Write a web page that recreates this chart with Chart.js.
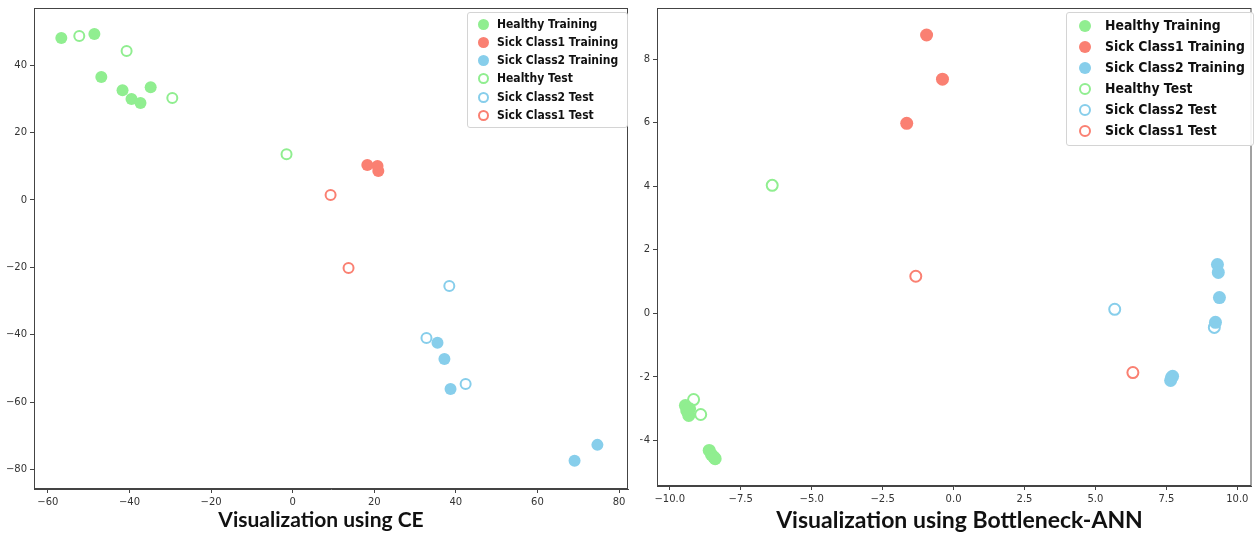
<!DOCTYPE html>
<html>
<head>
<meta charset="utf-8">
<script src="https://cdn.jsdelivr.net/npm/chart.js@4.4.1/dist/chart.umd.min.js"></script>
<style>
  body { margin: 0; background: #fff; width: 1259px; height: 536px; position: relative; overflow: hidden; }
  .panel { position: absolute; top: 0; }
  .legend { position: absolute; background: rgba(255,255,255,0.9); border: 1px solid #d4d4d4; border-radius: 3px;
            font-family: "DejaVu Sans", sans-serif; font-weight: bold; color: #111; box-sizing: border-box; }
  .legend .row { position: absolute; white-space: nowrap; }
  .legend .dot { position: absolute; border-radius: 50%; box-sizing: border-box; }
  .caption { position: absolute; font-family: Lato, "Open Sans", sans-serif; font-weight: bold; color: #111;
             text-align: center; white-space: nowrap; }
</style>
</head>
<body>
<div class="panel" style="left:0;width:640px;height:512px"><canvas id="ceChart"></canvas></div>
<div class="panel" style="left:640px;width:619px;height:509px"><canvas id="annChart"></canvas></div>
<div class="legend" id="ceLegend" style="left:467px;top:12px;width:161px;height:116px"></div>
<div class="legend" id="annLegend" style="left:1066px;top:12px;width:188px;height:134px"></div>
<div class="caption" style="left:0;width:642px;top:506px;font-size:21px">Visualization using CE</div>
<div class="caption" style="left:650px;width:619px;top:505px;font-size:23px">Visualization using Bottleneck-ANN</div>
<script>
// --- Series labels and colours ---
const seriesLabels = ['Healthy Training', 'Sick Class1 Training', 'Sick Class2 Training',
                      'Healthy Test', 'Sick Class2 Test', 'Sick Class1 Test'];
const seriesColors = ['#90EE90', '#FA8072', '#87CEEB', '#90EE90', '#87CEEB', '#FA8072'];
const seriesFilled = [true, true, true, false, false, false];

// --- Left panel (CE) points [x, y] ---
const ceHealthyTraining = [[-56.7, 48.1], [-48.6, 49.3], [-46.9, 36.5], [-41.7, 32.6], [-39.5, 30.0], [-37.3, 28.8], [-34.8, 33.5]];
const ceSick1Training = [[18.3, 10.4], [20.8, 10.1], [21.0, 8.6]];
const ceSick2Training = [[35.5, -42.4], [37.2, -47.2], [38.7, -56.1], [69.1, -77.4], [74.7, -72.7]];
const ceHealthyTest = [[-52.3, 48.7], [-40.7, 44.2], [-29.5, 30.3], [-1.5, 13.6]];
const ceSick2Test = [[38.4, -25.5], [32.8, -41.0], [42.4, -54.6]];
const ceSick1Test = [[9.3, 1.5], [13.7, -20.2]];
const ceXTicks = [-60, -40, -20, 0, 20, 40, 60, 80];
const ceYTicks = [-80, -60, -40, -20, 0, 20, 40];

// --- Right panel (Bottleneck-ANN) points [x, y] ---
const annHealthyTraining = [[-9.45, -2.90], [-9.40, -3.06], [-9.33, -3.21], [-9.30, -3.00],
                            [-8.61, -4.31], [-8.53, -4.44], [-8.45, -4.52], [-8.40, -4.57]];
const annSick1Training = [[-0.95, 8.76], [-0.39, 7.37], [-1.65, 5.98]];
const annSick2Training = [[9.30, 1.54], [9.33, 1.29], [9.37, 0.50], [9.23, -0.28], [7.65, -2.11], [7.72, -1.98]];
const annHealthyTest = [[-6.39, 4.03], [-9.16, -2.71], [-8.91, -3.18]];
const annSick2Test = [[5.68, 0.13], [9.19, -0.44], [7.68, -2.02]];
const annSick1Test = [[-1.33, 1.17], [6.32, -1.86]];
const annXTicks = [-10, -7.5, -5, -2.5, 0, 2.5, 5, 7.5, 10];
const annYTicks = [-4, -2, 0, 2, 4, 6, 8];

const spineColor = '#444';
const tickFont = { family: 'DejaVu Sans', size: 10 };

function toPoints(pairs) {
    return pairs.map(p => ({ x: p[0], y: p[1] }));
}

function buildDatasets(groups, radius) {
    return groups.map((pairs, i) => ({
        label: seriesLabels[i],
        data: toPoints(pairs),
        pointRadius: seriesFilled[i] ? radius : radius - 1,
        pointBackgroundColor: seriesFilled[i] ? seriesColors[i] : 'rgba(0,0,0,0)',
        pointBorderColor: seriesColors[i],
        pointBorderWidth: seriesFilled[i] ? 0 : 2,
        order: seriesFilled[i] ? 1 : 0
    }));
}

function minusSign(v, digits) {
    return (digits ? v.toFixed(digits) : String(v)).replace('-', '\u2212');
}

// draws the full box around the plot area
const framePlugin = {
    id: 'frame',
    afterDraw(chart) {
        const a = chart.chartArea, c = chart.ctx;
        c.save();
        c.strokeStyle = spineColor;
        c.lineWidth = 1;
        c.strokeRect(a.left + 0.5, a.top + 0.5, a.right - a.left - 1, a.bottom - a.top - 1);
        c.restore();
    }
};

function axis(min, max, ticks, digits, fitKey, fitSize) {
    return {
        type: 'linear',
        min: min,
        max: max,
        afterBuildTicks: s => { s.ticks = ticks.map(v => ({ value: v })); },
        afterFit: s => {
            s[fitKey] = fitSize;
            s.paddingLeft = 0; s.paddingRight = 0;
            s.paddingTop = 0; s.paddingBottom = 0;
        },
        grid: { display: true, drawOnChartArea: false, drawTicks: true, tickLength: 4, color: spineColor },
        border: { display: true, color: spineColor },
        ticks: {
            color: '#333',
            font: tickFont,
            padding: 3,
            maxRotation: 0,
            autoSkip: false,
            callback: v => minusSign(v, digits)
        }
    };
}

function makeChart(id, datasets, xs, ys, pad) {
    return new Chart(document.getElementById(id), {
        type: 'scatter',
        data: { datasets: datasets },
        options: {
            responsive: true,
            maintainAspectRatio: false,
            animation: false,
            events: [],
            layout: { padding: pad },
            plugins: { legend: { display: false }, tooltip: { enabled: false } },
            scales: { x: xs, y: ys }
        },
        plugins: [framePlugin]
    });
}

const ceChart = makeChart('ceChart',
    buildDatasets([ceHealthyTraining, ceSick1Training, ceSick2Training, ceHealthyTest, ceSick2Test, ceSick1Test], 6),
    axis(-63.4, 82.2, ceXTicks, 0, 'height', 23),
    axis(-85.8, 57.0, ceYTicks, 0, 'width', 34),
    { left: 0, right: 12, top: 8, bottom: 0 });

const annChart = makeChart('annChart',
    buildDatasets([annHealthyTraining, annSick1Training, annSick2Training, annHealthyTest, annSick2Test, annSick1Test], 6.5),
    axis(-10.45, 10.5, annXTicks, 1, 'height', 23),
    axis(-5.43, 9.61, annYTicks, 0, 'width', 17),
    { left: 0, right: -3, top: 8, bottom: 0 });

// --- Legends inside the plot, built from the datasets ---
function buildLegend(chart, elId, opts) {
    const box = document.getElementById(elId);
    chart.data.datasets.forEach((ds, i) => {
        const dot = document.createElement('div');
        dot.className = 'dot';
        const top = opts.first + i * opts.step;
        dot.style.left = (opts.dotX - opts.dot / 2) + 'px';
        dot.style.top = (top - opts.dot / 2) + 'px';
        dot.style.width = opts.dot + 'px';
        dot.style.height = opts.dot + 'px';
        if (seriesFilled[i]) {
            dot.style.background = seriesColors[i];
        } else {
            dot.style.border = '2px solid ' + seriesColors[i];
        }
        box.appendChild(dot);
        const row = document.createElement('div');
        row.className = 'row';
        row.textContent = ds.label;
        row.style.left = opts.textX + 'px';
        row.style.top = (top - opts.font * 0.62) + 'px';
        row.style.fontSize = opts.font + 'px';
        row.style.transform = 'scaleX(' + opts.squeeze + ')';
        row.style.transformOrigin = 'left center';
        box.appendChild(row);
    });
}

buildLegend(ceChart, 'ceLegend', { first: 11, step: 18.3, dotX: 15, dot: 11, textX: 29, font: 12, squeeze: 0.9 });
buildLegend(annChart, 'annLegend', { first: 13, step: 21, dotX: 18, dot: 12, textX: 38, font: 14, squeeze: 0.89 });
</script>
</body>
</html>
